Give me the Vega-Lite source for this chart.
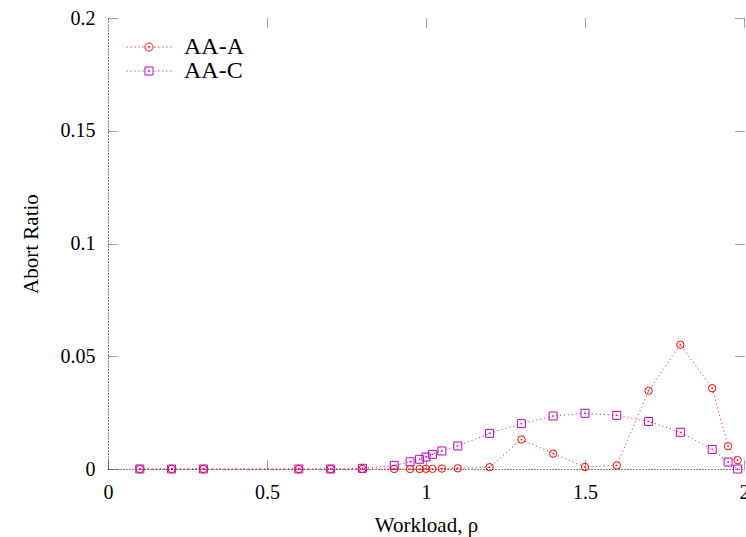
{
  "$schema": "https://vega.github.io/schema/vega-lite/v6.json",
  "autosize": "none",
  "width": 636,
  "height": 451,
  "padding": {"left": 108, "top": 18, "right": 2, "bottom": 68},
  "background": "white",
  "config": {
    "view": {"stroke": null},
    "font": "Liberation Serif",
    "axis": {"grid": false, "labelFlush": false, "labelFont": "Liberation Serif", "titleFont": "Liberation Serif", "labelFontSize": 20, "titleFontSize": 21, "titleFontWeight": "normal", "labelColor": "black", "titleColor": "black", "domainColor": "black", "domainDash": [1, 2], "tickColor": "#444", "tickDash": [1, 1], "tickSize": -9, "labelPadding": 22}
  },
  "data": {"values": [
    {"series": "AA-A", "x": 0.1, "y": 0},
    {"series": "AA-A", "x": 0.2, "y": 0},
    {"series": "AA-A", "x": 0.3, "y": 0},
    {"series": "AA-A", "x": 0.6, "y": 0},
    {"series": "AA-A", "x": 0.7, "y": 0},
    {"series": "AA-A", "x": 0.8, "y": 0},
    {"series": "AA-A", "x": 0.9, "y": 0},
    {"series": "AA-A", "x": 0.95, "y": 0},
    {"series": "AA-A", "x": 0.98, "y": 0},
    {"series": "AA-A", "x": 1.0, "y": 0.0001},
    {"series": "AA-A", "x": 1.02, "y": 0.0001},
    {"series": "AA-A", "x": 1.05, "y": 0.0002},
    {"series": "AA-A", "x": 1.1, "y": 0.0003},
    {"series": "AA-A", "x": 1.2, "y": 0.0008},
    {"series": "AA-A", "x": 1.3, "y": 0.0131},
    {"series": "AA-A", "x": 1.4, "y": 0.0068},
    {"series": "AA-A", "x": 1.5, "y": 0.0009},
    {"series": "AA-A", "x": 1.6, "y": 0.0016},
    {"series": "AA-A", "x": 1.7, "y": 0.0347},
    {"series": "AA-A", "x": 1.8, "y": 0.0551},
    {"series": "AA-A", "x": 1.9, "y": 0.0358},
    {"series": "AA-A", "x": 1.95, "y": 0.0101},
    {"series": "AA-A", "x": 1.98, "y": 0.0039},
    {"series": "AA-C", "x": 0.1, "y": 0},
    {"series": "AA-C", "x": 0.2, "y": 0},
    {"series": "AA-C", "x": 0.3, "y": 0},
    {"series": "AA-C", "x": 0.6, "y": 0},
    {"series": "AA-C", "x": 0.7, "y": 0},
    {"series": "AA-C", "x": 0.8, "y": 0.0003},
    {"series": "AA-C", "x": 0.9, "y": 0.0016},
    {"series": "AA-C", "x": 0.95, "y": 0.0032},
    {"series": "AA-C", "x": 0.98, "y": 0.0043},
    {"series": "AA-C", "x": 1.0, "y": 0.0053},
    {"series": "AA-C", "x": 1.02, "y": 0.0065},
    {"series": "AA-C", "x": 1.05, "y": 0.008},
    {"series": "AA-C", "x": 1.1, "y": 0.0102},
    {"series": "AA-C", "x": 1.2, "y": 0.0158},
    {"series": "AA-C", "x": 1.3, "y": 0.0201},
    {"series": "AA-C", "x": 1.4, "y": 0.0235},
    {"series": "AA-C", "x": 1.5, "y": 0.0247},
    {"series": "AA-C", "x": 1.6, "y": 0.0238},
    {"series": "AA-C", "x": 1.7, "y": 0.0211},
    {"series": "AA-C", "x": 1.8, "y": 0.0163},
    {"series": "AA-C", "x": 1.9, "y": 0.0087},
    {"series": "AA-C", "x": 1.95, "y": 0.0031},
    {"series": "AA-C", "x": 1.98, "y": 0}
  ]},
  "resolve": {"axis": {"x": "independent", "y": "independent"}},
  "layer": [
    {
      "mark": {"type": "line", "strokeDash": [1, 3], "strokeWidth": 1, "clip": false},
      "encoding": {
        "x": {"field": "x", "type": "quantitative", "scale": {"domain": [0, 2], "nice": false},
              "axis": {"title": "Workload, ρ", "values": [0, 0.5, 1, 1.5, 2], "labelExpr": "datum.value", "titlePadding": 12}},
        "y": {"field": "y", "type": "quantitative", "scale": {"domain": [0, 0.2], "nice": false},
              "axis": {"title": "Abort Ratio", "values": [0, 0.05, 0.1, 0.15, 0.2], "labelExpr": "datum.value", "titlePadding": 19}},
        "color": {"field": "series", "type": "nominal",
          "scale": {"domain": ["AA-A", "AA-C"], "range": ["#ff0000", "#c000c0"]},
          "legend": {"title": null, "orient": "none", "legendX": 18, "legendY": 18, "padding": 0,
            "labelFont": "Liberation Serif", "labelFontSize": 24, "labelColor": "black", "labelOffset": 12,
            "symbolSize": 2025, "rowPadding": 0, "clipHeight": 22, "symbolStrokeWidth": 1,
            "encode": {"symbols": {"update": {
              "shape": {"signal": "datum.value === 'AA-A' ? 'M-1,0h0.05M-0.82,0h0.05M-0.64,0h0.05M-0.46,0h0.05M-0.29,0h0.05M0.24,0h0.05M0.41,0h0.05M0.59,0h0.05M0.77,0h0.05M0.95,0h0.05M0.18,0A0.18,0.18,0,1,1,-0.18,0A0.18,0.18,0,1,1,0.18,0M-0.02,-0.02h0.04v0.04h-0.04Z' : 'M-1,0h0.05M-0.82,0h0.05M-0.64,0h0.05M-0.46,0h0.05M-0.29,0h0.05M0.24,0h0.05M0.41,0h0.05M0.59,0h0.05M0.77,0h0.05M0.95,0h0.05M-0.18,-0.18h0.36v0.36h-0.36ZM-0.02,-0.02h0.04v0.04h-0.04Z'"},
              "fillOpacity": {"value": 0},
              "strokeDash": {"value": []},
              "strokeWidth": {"value": 1},
              "size": {"value": 2025}
            }}}}
        }
      }
    },
    {
      "transform": [{"filter": "datum.series === 'AA-A'"}],
      "mark": {"type": "point", "filled": false, "shape": "circle", "strokeWidth": 1, "size": 55, "opacity": 1, "clip": false},
      "encoding": {
        "x": {"field": "x", "type": "quantitative", "axis": {"orient": "top", "labels": false, "domain": false, "title": null, "values": [0.5, 1, 1.5, 2]}},
        "y": {"field": "y", "type": "quantitative", "axis": {"orient": "right", "labels": false, "domain": false, "title": null, "values": [0.05, 0.1, 0.15, 0.2]}},
        "color": {"field": "series", "type": "nominal", "legend": null}
      }
    },
    {
      "transform": [{"filter": "datum.series === 'AA-C'"}],
      "mark": {"type": "point", "filled": false, "shape": "square", "strokeWidth": 1, "size": 64, "opacity": 1, "clip": false},
      "encoding": {
        "x": {"field": "x", "type": "quantitative", "axis": null},
        "y": {"field": "y", "type": "quantitative", "axis": null},
        "color": {"field": "series", "type": "nominal", "legend": null}
      }
    },
    {
      "mark": {"type": "point", "filled": true, "shape": "square", "size": 2, "opacity": 1, "clip": false},
      "encoding": {
        "x": {"field": "x", "type": "quantitative", "axis": null},
        "y": {"field": "y", "type": "quantitative", "axis": null},
        "color": {"field": "series", "type": "nominal", "legend": null}
      }
    }
  ]
}
